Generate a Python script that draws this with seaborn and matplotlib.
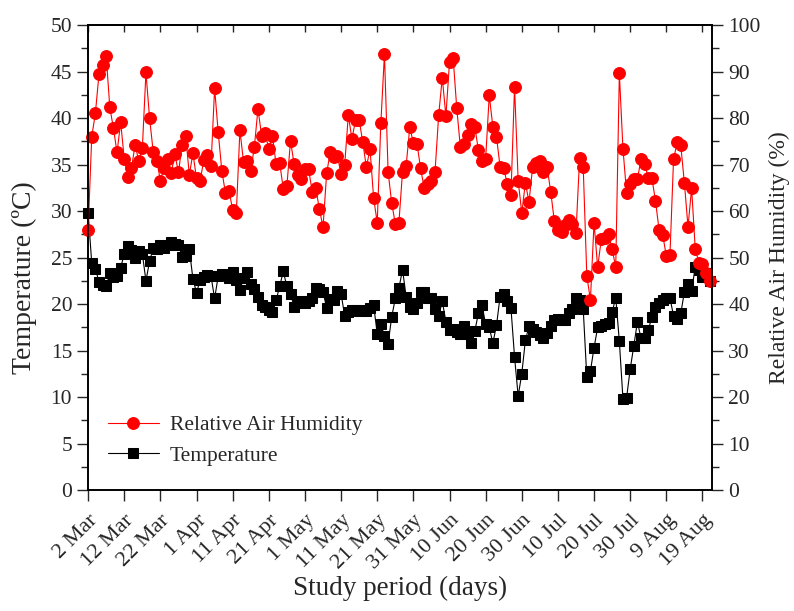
import pandas as pd
import matplotlib
matplotlib.use('Agg')
import matplotlib.pyplot as plt
import seaborn as sns
from matplotlib.ticker import MultipleLocator

sns.set_style('ticks')
plt.rcParams['font.family'] = ['Liberation Serif', 'DejaVu Serif']

# Daily series from 2 Mar (one value per day)
start_date = '2021-03-02'

humidity = [
    56, 76, 81, 89.4, 91.5, 93.3, 82.3, 77.8, 72.6, 79.1,
    71.2, 67.4, 69.2, 74.3, 70.7, 73.5, 89.8, 80, 72.8, 70.8,
    66.5, 69.3, 71.2, 68.2, 72.2, 68.3, 74.3, 76.1, 67.8, 72.4,
    67.0, 66.5, 71.0, 72.0, 69.7, 86.4, 76.9, 68.6, 63.9, 64.4,
    60.2, 59.5, 77.4, 70.6, 70.8, 68.6, 73.8, 82.0, 76.2, 76.7,
    73.3, 76.2, 70.1, 70.4, 64.8, 65.4, 75.1, 70.1, 67.7, 66.8,
    69.1, 69.0, 64.2, 64.9, 60.4, 56.5, 68.1, 72.7, 71.7, 71.8,
    67.9, 70.0, 80.6, 75.5, 79.6, 79.6, 74.8, 69.4, 73.4, 62.8,
    57.5, 78.9, 93.8, 68.5, 61.7, 57.3, 57.5, 68.5, 69.7, 78.0,
    74.7, 74.5, 69.2, 64.9, 65.8, 66.5, 68.5, 80.6, 88.7, 80.4,
    92.0, 93.0, 82.2, 73.8, 74.4, 76.3, 78.7, 78.1, 73.1, 70.8,
    71.2, 84.9, 78.1, 76.0, 69.5, 69.2, 65.8, 63.4, 86.7, 66.5,
    59.6, 66.1, 61.9, 69.5, 70.3, 70.7, 68.5, 69.5, 64.2, 57.9,
    55.9, 55.4, 57.0, 58.1, 57.3, 55.3, 71.3, 69.5, 46.0, 40.9,
    57.5, 47.9, 53.9, 54.3, 55.1, 51.8, 47.9, 89.6, 73.4, 63.9,
    65.8, 66.9, 66.9, 71.1, 70.1, 67.2, 67.1, 62.2, 55.9, 54.9,
    50.3, 50.5, 71.1, 74.8, 74.1, 66.0, 56.6, 64.9, 51.9, 48.9,
    48.6, 46.6, 45.0,
]

temperature = [
    29.8, 24.4, 23.8, 22.4, 22.0, 21.9, 23.3, 22.9, 23.0, 23.9,
    25.4, 26.2, 25.8, 25.0, 25.7, 25.4, 22.5, 24.6, 26.0, 25.9,
    26.3, 26.0, 26.3, 26.7, 26.5, 26.4, 25.1, 25.2, 25.9, 22.7,
    21.2, 22.6, 22.9, 23.1, 23.0, 20.6, 23.0, 23.2, 23.1, 22.8,
    23.4, 22.6, 21.5, 22.8, 23.4, 22.2, 21.6, 20.8, 19.9, 19.7,
    19.4, 19.1, 20.4, 21.9, 23.5, 21.9, 21.1, 19.7, 20.1, 20.3,
    20.1, 20.3, 20.6, 21.7, 21.6, 21.3, 19.6, 20.5, 20.4, 21.4,
    21.1, 18.7, 19.1, 19.4, 19.4, 19.3, 19.4, 19.2, 19.6, 19.9,
    16.8, 17.8, 16.6, 15.7, 18.6, 20.6, 21.7, 23.7, 20.8, 19.7,
    19.5, 20.1, 21.3, 21.3, 20.6, 20.7, 19.5, 18.7, 20.3, 18.1,
    17.2, 17.3, 17.0, 16.8, 17.6, 16.8, 15.8, 17.1, 19.0, 19.9,
    17.8, 17.5, 15.8, 17.7, 20.8, 21.1, 20.3, 19.6, 14.3, 10.1,
    12.5, 16.1, 17.6, 17.3, 17.0, 16.7, 16.3, 16.9, 17.6, 18.3,
    18.4, 18.3, 18.3, 19.0, 19.5, 20.6, 20.4, 19.5, 12.1, 12.8,
    15.3, 17.5, 17.6, 17.8, 18.0, 19.1, 20.7, 16.0, 9.8, 9.9,
    13.0, 15.5, 18.1, 16.3, 16.3, 17.2, 18.6, 19.7, 20.1, 20.4,
    20.6, 20.7, 18.7, 18.4, 19.0, 21.3, 22.2, 21.4, 24.0, 23.7,
    22.9, 23.3, 22.5,
]

df = pd.DataFrame({
    'Data': pd.date_range(start_date, periods=len(humidity), freq='D'),
    'Umidade': humidity,
    'Temperatura': temperature,
})

fig = plt.figure(figsize=(7.94, 6.11), dpi=100)
ax = fig.add_axes([0.111, 0.198, 0.786, 0.761])
ax2 = ax.twinx()

sns.lineplot(data=df, x='Data', y='Temperatura', ax=ax, color='black',
             marker='s', markersize=6.5, markeredgecolor='black',
             linewidth=0.8, label='Temperature', legend=False, clip_on=False)
sns.lineplot(data=df, x='Data', y='Umidade', ax=ax2, color='red',
             marker='o', markersize=8.5, markeredgecolor='red',
             linewidth=0.8, label='Relative Air Humidity', legend=False, clip_on=False)

# Eixos
ax.set_ylim(0, 50)
ax2.set_ylim(0, 100)
ax.set_xlim(df['Data'].iloc[0], df['Data'].iloc[0] + pd.Timedelta(days=172.7))

ax.yaxis.set_major_locator(MultipleLocator(5))
ax.yaxis.set_minor_locator(MultipleLocator(2.5))
ax2.yaxis.set_major_locator(MultipleLocator(10))
ax2.yaxis.set_minor_locator(MultipleLocator(5))

ticks = df['Data'].iloc[::10]
ax.set_xticks(ticks)
ax.set_xticklabels([f'{d.day} {d.strftime("%b")}' for d in ticks],
                   rotation=45, ha='right', rotation_mode='anchor')

top = ax.secondary_xaxis('top')
top.set_xticks(ticks)
top.tick_params(direction='in', length=5, width=1, labeltop=False)
top.spines['top'].set_linewidth(1.2)

for a in (ax, ax2):
    a.tick_params(which='major', direction='out', length=8, width=1, labelsize=15.5)
    a.tick_params(which='minor', direction='out', length=5, width=1)
    for s in a.spines.values():
        s.set_linewidth(1.2)
        s.set_color('black')
ax.tick_params(axis='x', labelsize=16, pad=7)

ax.set_xlabel('Study period (days)', fontsize=19.5, labelpad=2)
ax.set_ylabel('Temperature (ºC)', fontsize=20)
ax.yaxis.set_label_coords(-0.082, 0.456)
ax2.set_ylabel('Relative Air Humidity (%)', fontsize=17, labelpad=6)

h1, l1 = ax2.get_legend_handles_labels()
h2, l2 = ax.get_legend_handles_labels()
ax2.legend(h1 + h2, l1 + l2, loc='lower left', bbox_to_anchor=(0.0, 0.01),
           frameon=False, fontsize=15.5, handlelength=2.4, handletextpad=0.5,
           labelspacing=0.5)

fig.savefig('out.png', dpi=100)
